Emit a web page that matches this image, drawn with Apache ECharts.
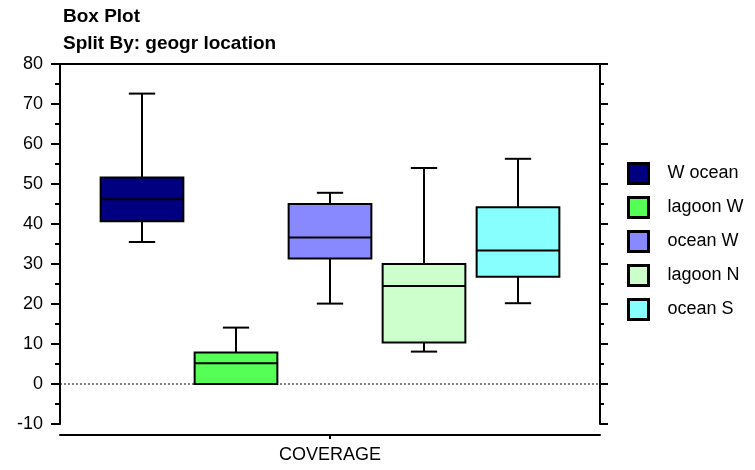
<!DOCTYPE html>
<html><head><meta charset="utf-8">
<script src="https://cdn.jsdelivr.net/npm/echarts@6/dist/echarts.min.js"></script>
<style>html,body{margin:0;padding:0;background:#fff}#c{width:755px;height:470px}</style>
</head><body><div id="c"></div>
<script>
const groups = ['W ocean', 'lagoon W', 'ocean W', 'lagoon N', 'ocean S'];
const colors = ['#000080', '#55ff55', '#8888ff', '#ccffcc', '#88ffff'];
// [low whisker, Q1, median, Q3, high whisker]
const lowWhisker = [35.5, 0, 20.1, 8.1, 20.2];
const q1 = [40.7, 0, 31.4, 10.4, 26.8];
const median = [46.2, 5.2, 36.6, 24.5, 33.4];
const q3 = [51.6, 7.9, 45.0, 30.0, 44.2];
const highWhisker = [72.6, 14.1, 47.8, 54.0, 56.3];
const xCategory = ['COVERAGE'];
const yTicks = { min: -10, max: 80, interval: 10 };
const zeroLine = [[0, 0], [1, 0]];

const FONT = 'Liberation Sans, Arial, sans-serif';

function renderBox(params, api) {
  const xi = api.value(0);
  const pLow = api.coord([xi, api.value(1)]);
  const pQ1 = api.coord([xi, api.value(2)]);
  const pMed = api.coord([xi, api.value(3)]);
  const pQ3 = api.coord([xi, api.value(4)]);
  const pHigh = api.coord([xi, api.value(5)]);
  const band = params.coordSys.width / groups.length;
  const half = band * 0.44;
  const cap = band * 0.14;
  const cx = pLow[0];
  const color = api.visual('color');
  const ls = { stroke: '#000', lineWidth: 2 };
  return {
    type: 'group',
    children: [
      { type: 'line', shape: { x1: cx, y1: pHigh[1], x2: cx, y2: pQ3[1] }, style: ls },
      { type: 'line', shape: { x1: cx - cap, y1: pHigh[1], x2: cx + cap, y2: pHigh[1] }, style: ls },
      { type: 'line', shape: { x1: cx, y1: pLow[1], x2: cx, y2: pQ1[1] }, style: ls },
      { type: 'line', shape: { x1: cx - cap, y1: pLow[1], x2: cx + cap, y2: pLow[1] }, style: ls },
      { type: 'rect', shape: { x: cx - half, y: pQ3[1], width: half * 2, height: pQ1[1] - pQ3[1] },
        style: { fill: color, stroke: '#000', lineWidth: 2 } },
      { type: 'line', shape: { x1: cx - half, y1: pMed[1], x2: cx + half, y2: pMed[1] }, style: ls }
    ]
  };
}

const boxSeries = groups.map((g, i) => ({
  name: g,
  type: 'custom',
  xAxisIndex: 3,
  yAxisIndex: 2,
  itemStyle: { color: colors[i] },
  encode: { x: 0, y: [1, 2, 3, 4, 5] },
  renderItem: renderBox,
  data: [[i, lowWhisker[i], q1[i], median[i], q3[i], highWhisker[i]]],
  z: 3
}));

const chart = echarts.init(document.getElementById('c'), null, { renderer: 'canvas' });
chart.setOption({
  animation: false,
  backgroundColor: '#fff',
  textStyle: { fontFamily: FONT },
  title: [
    { text: 'Box Plot', left: 63, top: 7, padding: 0, textStyle: { fontSize: 19, fontWeight: 'bold', color: '#000', fontFamily: FONT } },
    { text: 'Split By: geogr location', left: 63, top: 34, padding: 0, textStyle: { fontSize: 19, fontWeight: 'bold', color: '#000', fontFamily: FONT } }
  ],
  legend: {
    orient: 'vertical',
    left: 627,
    top: 162,
    padding: 0,
    itemWidth: 20,
    itemHeight: 20,
    itemGap: 11,
    icon: 'rect',
    data: groups,
    itemStyle: { borderColor: '#000', borderWidth: 3 },
    textStyle: { fontSize: 18, lineHeight: 20, color: '#000', fontFamily: FONT, padding: [0, 0, 0, 14] }
  },
  grid: [
    { left: 60, top: 64, width: 540, height: 360 },
    { left: 95, top: 64, width: 470, height: 360 }
  ],
  xAxis: [
    {
      type: 'category', gridIndex: 0, position: 'bottom', offset: 11, data: xCategory,
      axisLine: { onZero: false, lineStyle: { color: '#000', width: 2 } },
      axisTick: { show: true, alignWithLabel: true, length: 4, lineStyle: { color: '#000', width: 2 } },
      axisLabel: { color: '#000', fontSize: 18, margin: 11, fontFamily: FONT }
    },
    {
      type: 'category', gridIndex: 0, position: 'top', data: xCategory,
      axisLine: { onZero: false, lineStyle: { color: '#000', width: 2 } },
      axisTick: { show: false }, axisLabel: { show: false }
    },
    {
      type: 'value', gridIndex: 0, min: 0, max: 1, show: false
    },
    {
      type: 'category', gridIndex: 1, data: groups, show: false, boundaryGap: true
    }
  ],
  yAxis: [
    {
      type: 'value', gridIndex: 0, position: 'left', min: yTicks.min, max: yTicks.max, interval: yTicks.interval,
      axisLine: { show: true, onZero: false, lineStyle: { color: '#000', width: 2 } },
      axisTick: { show: true, length: 9, lineStyle: { color: '#000', width: 2 } },
      minorTick: { show: true, splitNumber: 2, length: 5, lineStyle: { color: '#000', width: 2 } },
      splitLine: { show: false },
      axisLabel: { color: '#000', fontSize: 18, margin: 17, fontFamily: FONT }
    },
    {
      type: 'value', gridIndex: 0, position: 'right', min: yTicks.min, max: yTicks.max, interval: yTicks.interval,
      axisLine: { show: true, onZero: false, lineStyle: { color: '#000', width: 2 } },
      axisTick: { show: true, length: 8, lineStyle: { color: '#000', width: 2 } },
      minorTick: { show: true, splitNumber: 2, length: 4, lineStyle: { color: '#000', width: 2 } },
      splitLine: { show: false },
      axisLabel: { show: false }
    },
    {
      type: 'value', gridIndex: 1, min: yTicks.min, max: yTicks.max, interval: yTicks.interval, show: false
    }
  ],
  series: [
    {
      type: 'line', xAxisIndex: 2, yAxisIndex: 0, data: zeroLine, symbol: 'none',
      lineStyle: { color: '#000', width: 1, type: [2, 2] }, z: 1, silent: true
    }
  ].concat(boxSeries)
});
</script>
</body></html>
